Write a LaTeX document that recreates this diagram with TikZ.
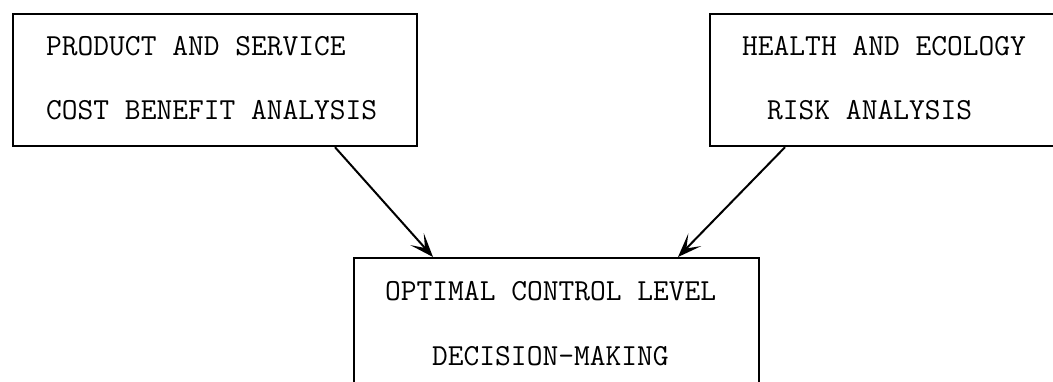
\documentclass[tikz,border=0pt]{standalone}
\usetikzlibrary{arrows.meta}
\begin{document}
\begin{tikzpicture}[x=1pt,y=-1pt,
  boxframe/.style={draw,line width=2.2pt,rectangle,inner sep=0pt,anchor=north west},
  label/.style={inner sep=0pt,anchor=base west,font=\fontsize{30.6}{36}\ttfamily},
  link/.style={line width=2pt,-{Stealth[length=24pt,width=18pt,inset=12pt]}}]
\useasboundingbox (0,0) rectangle (1053,381);
\clip (0,0) rectangle (1053,381);
\fill[white] (0,0) rectangle (1053,381);

% boxes (the right one and the lower one run past the page edge)
\node[boxframe,minimum width=404pt,minimum height=132pt] (lbox) at (12,13) {};
\node[boxframe,minimum width=360pt,minimum height=132pt] (rbox) at (709,13) {};
\node[boxframe,minimum width=405pt,minimum height=140pt] (bbox) at (353,257) {};

% texts
\node[label] (l1) at (46,55)  {PRODUCT AND SERVICE};
\node[label] (l2) at (46,119) {COST BENEFIT ANALYSIS};
\node[label] (r1) at (742,55) {HEALTH AND ECOLOGY};
\node[label] (r2) at (767,119){RISK ANALYSIS};
\node[label] (b1) at (385,300){OPTIMAL CONTROL LEVEL};
\node[label] (b2) at (432,365){DECISION-MAKING};

% arrow ends on the box borders
\coordinate (ls) at ([xshift=323pt]lbox.south west);
\coordinate (rs) at ([xshift=76pt]rbox.south west);
\coordinate (bl) at ([xshift=80pt]bbox.north west);
\coordinate (br) at ([xshift=325pt]bbox.north west);

\draw[link] (ls) -- (bl);
\draw[link] (rs) -- (br);
\end{tikzpicture}
\end{document}
